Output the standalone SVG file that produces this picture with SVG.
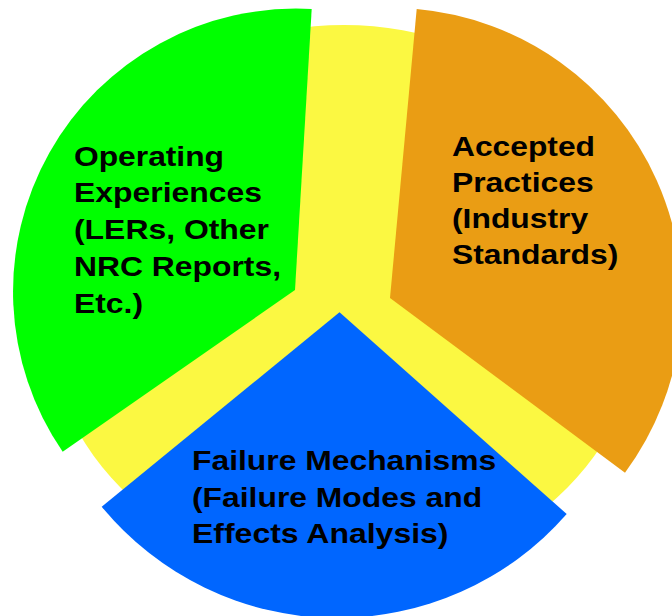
<svg xmlns="http://www.w3.org/2000/svg" width="672" height="616" viewBox="0 0 672 616">
<style>
  .lbl { font-family: "Liberation Sans", Arial, sans-serif; font-weight: bold; font-size: 28px; fill: #000000; }
</style>
<rect width="672" height="616" fill="#ffffff"/>
<g id="background">
  <ellipse cx="344" cy="302" rx="301" ry="277" fill="#FBF842"/>
</g>
<g id="operating-experiences">
  <path d="M295,290 L311.7,9 A283,283 0 0,0 62.7,451.7 Z" fill="#00FF00"/>
  <text class="lbl" x="74" y="165.5" textLength="150" lengthAdjust="spacingAndGlyphs">Operating</text>
  <text class="lbl" x="74" y="202.3" textLength="188" lengthAdjust="spacingAndGlyphs">Experiences</text>
  <text class="lbl" x="74" y="239.1" textLength="195" lengthAdjust="spacingAndGlyphs">(LERs, Other</text>
  <text class="lbl" x="74" y="275.9" textLength="207" lengthAdjust="spacingAndGlyphs">NRC Reports,</text>
  <text class="lbl" x="74" y="312.7" textLength="69" lengthAdjust="spacingAndGlyphs">Etc.)</text>
</g>
<g id="accepted-practices">
  <path d="M390,298 L416.7,9 A291.5,291.5 0 0,1 625,472.7 Z" fill="#EA9D14"/>
  <text class="lbl" x="452" y="156" textLength="143" lengthAdjust="spacingAndGlyphs">Accepted</text>
  <text class="lbl" x="452" y="192" textLength="141.6" lengthAdjust="spacingAndGlyphs">Practices</text>
  <text class="lbl" x="452" y="228" textLength="136.2" lengthAdjust="spacingAndGlyphs">(Industry</text>
  <text class="lbl" x="452" y="264" textLength="166.3" lengthAdjust="spacingAndGlyphs">Standards)</text>
</g>
<g id="failure-mechanisms">
  <path d="M339.5,312.3 L566.7,514 A305,305 0 0,1 101.7,506.7 Z" fill="#0066FF"/>
  <text class="lbl" x="192" y="470" textLength="304.3" lengthAdjust="spacingAndGlyphs">Failure Mechanisms</text>
  <text class="lbl" x="192" y="506.7" textLength="290.1" lengthAdjust="spacingAndGlyphs">(Failure Modes and</text>
  <text class="lbl" x="192" y="543.4" textLength="256.5" lengthAdjust="spacingAndGlyphs">Effects Analysis)</text>
</g>
<g id="connectors"></g>
</svg>
